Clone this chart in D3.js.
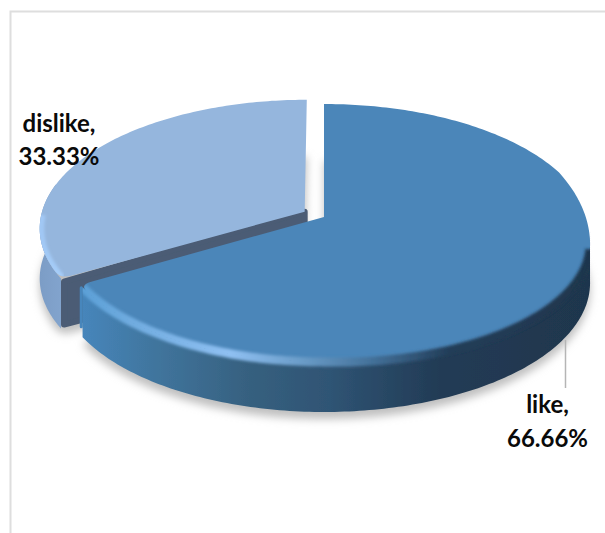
<!DOCTYPE html>
<html>
<head>
<meta charset="utf-8">
<script src="https://cdnjs.cloudflare.com/ajax/libs/d3/7.8.5/d3.min.js"></script>
<style>
  html, body { margin: 0; padding: 0; background: #fff; }
  svg { display: block; }
  text { font-family: Lato, "Open Sans", sans-serif; font-weight: 700; font-size: 24px; fill: #0a0a0a; }
</style>
</head>
<body>
<script>
// Survey shares shown on the tilted pie
const categories = ["like", "dislike"];
const shares = [66.66, 33.33];
const shareLabels = ["66.66%", "33.33%"];

const width = 605, height = 533;
const apex = { x: 324, y: 217 };
const radius = 264, foreshorten = 127, perspective = -0.124;
const thickness = 50;
const explode = 0.085;

const svg = d3.select("body").append("svg").attr("width", width).attr("height", height);
const defs = svg.append("defs");

// Pie layout in clockwise order from twelve o'clock
const arcs = d3.pie().sort(null).startAngle(0).endAngle(2 * Math.PI)
  .value((d, i) => shares[i])(categories);
const likeArc = arcs[0], dislikeArc = arcs[1];

const sx = d3.scaleLinear().domain([0, 1]).range([0, radius]);
const sy = d3.scaleLinear().domain([0, 1]).range([0, foreshorten]);

// Disc coordinates to the page, with a projective tilt that enlarges the near edge
function project(u, v, drop) {
  const w = 1 + perspective * v;
  return [apex.x + sx(u) / w, apex.y + sy(v) / w + (drop || 0)];
}
function offsetOf(arc, amount) {
  const mid = (arc.startAngle + arc.endAngle) / 2;
  return [Math.sin(mid) * amount, -Math.cos(mid) * amount];
}
function rimPoint(angle, off, drop) {
  return project(Math.sin(angle) + off[0], -Math.cos(angle) + off[1], drop);
}
function rim(a0, a1, off, drop) {
  const n = Math.max(2, Math.ceil(Math.abs(a1 - a0) * 60));
  return d3.range(n + 1).map(i => {
    const a = a0 + (a1 - a0) * i / n;
    return rimPoint(a, off, typeof drop === "function" ? drop(a) : drop);
  });
}
const line = d3.line();
const lerp = (p, q, t) => [p[0] + (q[0] - p[0]) * t, p[1] + (q[1] - p[1]) * t];

// The rounded shoulder lets the top face sag a little toward the right-hand wall
const shoulder = d3.scaleLinear().domain([1.2, 1.68, Math.PI]).range([0, 11, 0]).clamp(true);

// Slice face with a softened corner where the cut edge meets the rim
function facePath(arc, off, cornerAngle, drop) {
  const centre = project(off[0], off[1]);
  const other = cornerAngle === arc.startAngle ? arc.endAngle : arc.startAngle;
  const corner = rimPoint(cornerAngle, off);
  const dir = other > cornerAngle ? 1 : -1;
  const pts = rim(cornerAngle + dir * 0.05, other, off, drop);
  const before = lerp(corner, centre, 0.045);
  const p = d3.path();
  p.moveTo(centre[0], centre[1]);
  p.lineTo(before[0], before[1]);
  p.quadraticCurveTo(corner[0], corner[1], pts[0][0], pts[0][1]);
  pts.slice(1).forEach(q => p.lineTo(q[0], q[1]));
  p.closePath();
  return p.toString();
}
// Wall between the top rim and the same rim dropped by the slice thickness
function wallPath(a0, a1, off) {
  const top = rim(a0, a1, off, 0);
  const bottom = rim(a1, a0, off, thickness);
  return line(top.concat(bottom)) + "Z";
}
function horizontalGradient(id, stops) {
  const g = defs.append("linearGradient").attr("id", id)
    .attr("gradientUnits", "userSpaceOnUse")
    .attr("x1", 0).attr("x2", width).attr("y1", 0).attr("y2", 0);
  stops.forEach(s => g.append("stop").attr("offset", s[0] / width).attr("stop-color", s[1]));
}
function blurFilter(id, amount) {
  defs.append("filter").attr("id", id)
    .attr("x", "-10%").attr("y", "-10%").attr("width", "120%").attr("height", "120%")
    .append("feGaussianBlur").attr("stdDeviation", amount);
}

horizontalGradient("likeWall", [[80, "#4686bc"], [150, "#41769f"], [250, "#36607f"], [330, "#2f5474"], [440, "#223b55"], [590, "#1f364d"]]);
horizontalGradient("likeBevel", [[80, "#5a9fd6"], [130, "#6fabdf"], [230, "#8fc0f2"], [300, "#6b9dc9"], [370, "#44729b"], [450, "#223d58"], [590, "#1f364d"]]);
horizontalGradient("dislikeWall", [[40, "#7c9dc6"], [75, "#86a8d2"]]);
horizontalGradient("dislikeBevel", [[38, "#a0c7f4"], [70, "#a8d0fc"], [110, "#9fc3ec"]]);
blurFilter("soft", 4);
blurFilter("bevelBlur", 1.8);
blurFilter("edgeBlur", 0.5);

// Chart frame
svg.append("path").attr("d", line([[10.5, height], [10.5, 11.5], [width, 11.5]]))
  .attr("fill", "none").attr("stroke", "#dedede").attr("stroke-width", 2);

const noOff = [0, 0];
const dislikeOff = offsetOf(dislikeArc, explode);

// Soft ground shadow under both slices
const shadow = svg.append("g").attr("filter", "url(#soft)")
  .attr("transform", `translate(0,${thickness + 7})`).attr("fill", "#bfbfbf");
shadow.append("path").attr("d", facePath(likeArc, noOff, likeArc.endAngle));
shadow.append("path").attr("d", facePath(dislikeArc, dislikeOff, dislikeArc.startAngle));

// Detached slice: wall, cut face, top and rim highlight
const d = svg.append("g").attr("filter", "url(#edgeBlur)");
d.append("path").attr("d", wallPath(dislikeArc.startAngle, dislikeArc.startAngle + 0.75, dislikeOff))
  .attr("fill", "url(#dislikeWall)");
const dCentre = project(dislikeOff[0], dislikeOff[1]);
const dCorner = rimPoint(dislikeArc.startAngle, dislikeOff);
d.append("path")
  .attr("d", line([dCentre, [dCorner[0] + 3, dCorner[1] + 3], [dCorner[0] + 3, dCorner[1] + thickness - 4], [dCentre[0], dCentre[1] + thickness]]) + "Z")
  .attr("fill", "#4b5c74").attr("stroke", "#4b5c74").attr("stroke-width", 6).attr("stroke-linejoin", "round");
d.append("path").attr("d", facePath(dislikeArc, dislikeOff, dislikeArc.startAngle)).attr("fill", "#95b6dd");
defs.append("clipPath").attr("id", "dislikeClip").append("path")
  .attr("d", facePath(dislikeArc, dislikeOff, dislikeArc.startAngle));
d.append("g").attr("clip-path", "url(#dislikeClip)").append("path")
  .attr("d", line(rim(dislikeArc.startAngle, dislikeArc.startAngle + 0.5, dislikeOff)))
  .attr("fill", "none").attr("stroke", "url(#dislikeBevel)").attr("stroke-width", 9)
  .attr("filter", "url(#bevelBlur)");

// Main slice: wall, top and rim highlight
const l = svg.append("g").attr("filter", "url(#edgeBlur)");
const likeWallD = wallPath(1.68, likeArc.endAngle - 0.02, noOff);
l.append("path").attr("d", likeWallD).attr("fill", "url(#likeWall)");
const corner = rimPoint(likeArc.endAngle, noOff);
l.append("path")
  .attr("d", line([[corner[0] + 1, corner[1] + 3], [corner[0] + 1, corner[1] + thickness - 8]]))
  .attr("stroke", "#4686bc").attr("stroke-width", 3).attr("stroke-linecap", "round");
const likeFace = facePath(likeArc, noOff, likeArc.endAngle, shoulder);
l.append("path").attr("d", likeFace).attr("fill", "#4b86b9");
const clip = defs.append("clipPath").attr("id", "likeClip");
clip.append("path").attr("d", likeFace);
clip.append("path").attr("d", likeWallD);
l.append("g").attr("clip-path", "url(#likeClip)").append("path")
  .attr("d", line(rim(1.74, likeArc.endAngle - 0.02, noOff, shoulder)))
  .attr("fill", "none").attr("stroke", "url(#likeBevel)").attr("stroke-width", 8.8)
  .attr("filter", "url(#bevelBlur)");

// Leader from the main slice to its label
svg.append("line").attr("x1", 565.5).attr("x2", 565.5).attr("y1", 340).attr("y2", 388)
  .attr("stroke", "#b5b5b5").attr("stroke-width", 1.5);

// Data labels
const labelSpots = [
  { x: 547.5, y: 413, step: 33.5 },
  { x: 59, y: 132, step: 32.5 }
];
categories.forEach((name, i) => {
  const spot = labelSpots[i];
  const t = svg.append("text").attr("text-anchor", "middle");
  t.append("tspan").attr("x", spot.x).attr("y", spot.y).text(name + ",");
  t.append("tspan").attr("x", spot.x).attr("y", spot.y + spot.step).text(shareLabels[i]);
});
</script>
</body>
</html>
